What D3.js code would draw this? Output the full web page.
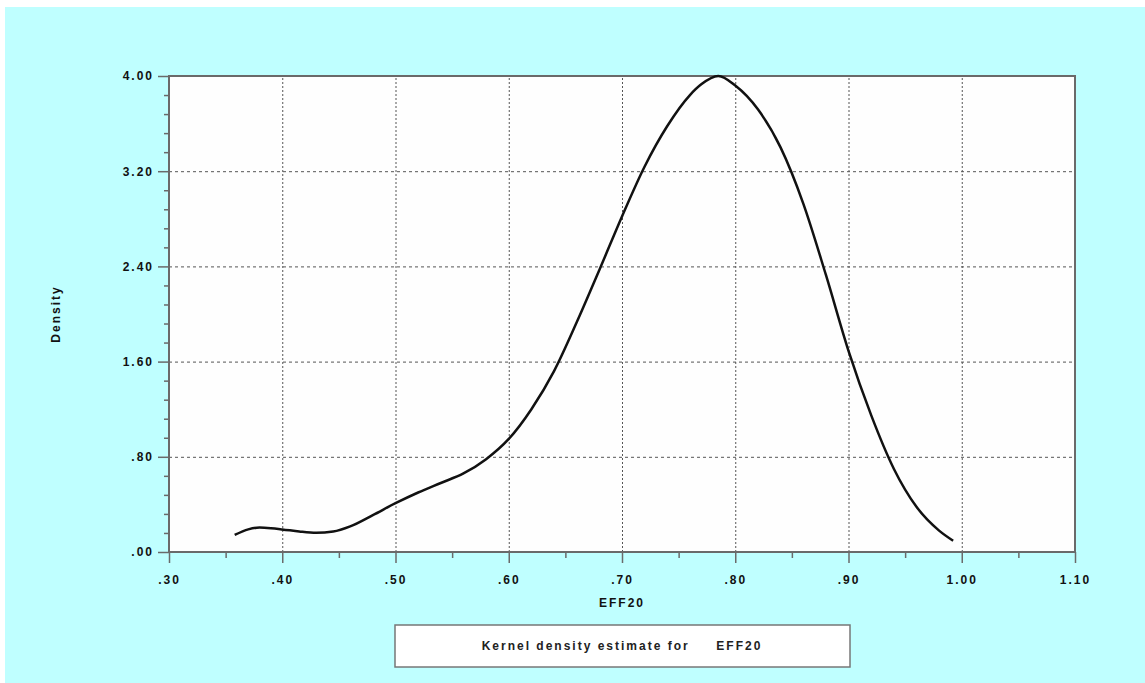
<!DOCTYPE html>
<html>
<head>
<meta charset="utf-8">
<script src="https://cdn.jsdelivr.net/npm/d3@7"></script>
<style>
  body { margin: 0; background: #fff; }
  svg text { font-family: "Liberation Sans", Arial, sans-serif; font-weight: bold; }
</style>
</head>
<body>
<div class="chart"></div>
<script>
// kernel density estimate for EFF20
const effValues = [0.358, 0.37, 0.38, 0.39, 0.40, 0.415, 0.43, 0.445, 0.46, 0.48, 0.50,
  0.52, 0.54, 0.56, 0.58, 0.60, 0.62, 0.64, 0.66, 0.68, 0.70,
  0.72, 0.74, 0.76, 0.77, 0.785, 0.80, 0.82, 0.84, 0.86, 0.88,
  0.90, 0.92, 0.94, 0.96, 0.98, 0.9924];
const densityValues = [0.143, 0.19, 0.205, 0.20, 0.19, 0.172, 0.161, 0.172, 0.215, 0.31, 0.41,
  0.50, 0.58, 0.66, 0.78, 0.95, 1.20, 1.52, 1.93, 2.37, 2.82,
  3.24, 3.58, 3.84, 3.93, 4.00, 3.92, 3.72, 3.40, 2.93, 2.33,
  1.69, 1.15, 0.70, 0.38, 0.18, 0.095];

const xTicks = [0.3, 0.4, 0.5, 0.6, 0.7, 0.8, 0.9, 1.0, 1.1];
const xTickLabels = [".30", ".40", ".50", ".60", ".70", ".80", ".90", "1.00", "1.10"];
const yTicks = [0, 0.8, 1.6, 2.4, 3.2, 4.0];
const yTickLabels = [".00", ".80", "1.60", "2.40", "3.20", "4.00"];
const xTitle = "EFF20";
const yTitle = "Density";
const legendText = "Kernel density estimate for     EFF20";

const W = 1145, H = 683;
const margin = {top: 76, right: 70, bottom: 131, left: 169};
const graphWidth = W - margin.left - margin.right;
const graphHeight = H - margin.top - margin.bottom;

const svg = d3.select('.chart')
  .append('svg')
    .attr('width', W)
    .attr('height', H);

// cyan backdrop
svg.append('rect')
  .attr('x', 5).attr('y', 7)
  .attr('width', W - 5).attr('height', H - 7)
  .attr('fill', '#bfffff');

const graph = svg.append('g')
  .attr('transform', `translate(${margin.left}, ${margin.top})`);

graph.append('rect')
  .attr('width', graphWidth)
  .attr('height', graphHeight)
  .attr('fill', '#fefefe');

const x = d3.scaleLinear().domain([0.3, 1.1]).range([0, graphWidth]);
const y = d3.scaleLinear().domain([0, 4]).range([graphHeight, 0]);

// gridlines
const xGrid = graph.append('g')
  .attr('transform', `translate(0, ${graphHeight})`)
  .call(d3.axisBottom(x).tickValues(xTicks.slice(1, -1)).tickSize(-graphHeight).tickFormat(''));
xGrid.selectAll('line').attr('stroke', '#555').attr('stroke-dasharray', '2,2');

const yGrid = graph.append('g')
  .call(d3.axisLeft(y).tickValues(yTicks.slice(1, -1)).tickSize(-graphWidth).tickFormat(''));
yGrid.selectAll('line').attr('stroke', '#555').attr('stroke-dasharray', '3,3');

graph.selectAll('.domain').remove();

// minor ticks
const xMinor = d3.range(0.35, 1.1, 0.1);
const yMinor = d3.range(0, 4.0001, 0.16).filter(v => yTicks.every(t => Math.abs(t - v) > 1e-6));

const xMinorG = graph.append('g')
  .attr('transform', `translate(0, ${graphHeight})`)
  .call(d3.axisBottom(x).tickValues(xMinor).tickSize(6).tickFormat(''));
const yMinorG = graph.append('g')
  .call(d3.axisLeft(y).tickValues(yMinor).tickSize(5).tickFormat(''));

// major axes
const xAxisGroup = graph.append('g')
  .attr('transform', `translate(0, ${graphHeight})`)
  .call(d3.axisBottom(x).tickValues(xTicks).tickSize(11).tickPadding(12)
    .tickFormat((d, i) => xTickLabels[i]));
const yAxisGroup = graph.append('g')
  .call(d3.axisLeft(y).tickValues(yTicks).tickSize(11).tickPadding(4)
    .tickFormat((d, i) => yTickLabels[i]));

[xMinorG, yMinorG, xAxisGroup, yAxisGroup].forEach(g => {
  g.selectAll('.domain').remove();
  g.selectAll('line').attr('stroke', '#6a6a6a').attr('stroke-width', 1.5);
});

graph.selectAll('.tick text')
  .attr('fill', '#111')
  .attr('font-size', 12)
  .attr('letter-spacing', 2)
  .attr('font-family', '"Liberation Sans", Arial, sans-serif');

// plot border
graph.append('rect')
  .attr('width', graphWidth)
  .attr('height', graphHeight)
  .attr('fill', 'none')
  .attr('stroke', '#6a6a6a')
  .attr('stroke-width', 2);

// density curve
const pts = effValues.map((v, i) => [v, densityValues[i]]);
const line = d3.line()
  .x(d => x(d[0]))
  .y(d => y(d[1]))
  .curve(d3.curveMonotoneX);

graph.append('path')
  .datum(pts)
  .attr('d', line)
  .attr('fill', 'none')
  .attr('stroke', '#111')
  .attr('stroke-width', 2.5);

// axis titles
svg.append('text')
  .attr('x', margin.left + graphWidth / 2)
  .attr('y', 607)
  .attr('text-anchor', 'middle')
  .attr('font-size', 12)
  .attr('letter-spacing', 2)
  .attr('fill', '#111')
  .text(xTitle);

svg.append('text')
  .attr('transform', `translate(60, ${margin.top + graphHeight / 2}) rotate(-90)`)
  .attr('text-anchor', 'middle')
  .attr('font-size', 12)
  .attr('letter-spacing', 2)
  .attr('fill', '#111')
  .text(yTitle);

// legend box
svg.append('rect')
  .attr('x', 395).attr('y', 625)
  .attr('width', 455).attr('height', 42)
  .attr('fill', '#fff')
  .attr('stroke', '#777')
  .attr('stroke-width', 1.5);

svg.append('text')
  .attr('x', 622)
  .attr('y', 650)
  .attr('text-anchor', 'middle')
  .attr('font-size', 12)
  .attr('letter-spacing', 2)
  .attr('fill', '#222')
  .style('white-space', 'pre')
  .text(legendText);
</script>
</body>
</html>
